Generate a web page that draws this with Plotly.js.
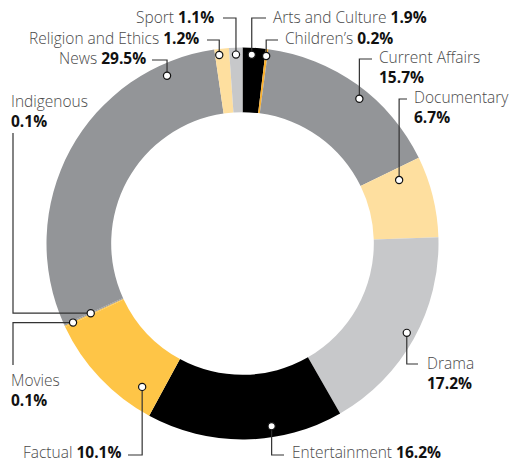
<!DOCTYPE html>
<html><head><meta charset="utf-8">
<script src="https://cdn.plot.ly/plotly-3.0.1.min.js"></script>
<style>html,body{margin:0;padding:0;background:#fff}#chart{width:515px;height:465px}</style>
</head><body><div id="chart"></div>
<script>
// ---- data ----
var categories = ["Arts and Culture","Children\u2019s","Current Affairs","Documentary","Drama","Entertainment","Factual","Movies","Indigenous","News","Religion and Ethics","Sport"];
var shares = [1.9,0.2,15.7,6.7,17.2,16.2,10.1,0.1,0.1,29.5,1.2,1.1];
var colors = ["#000000","#FBB12E","#939598","#FEDF9F","#C7C8CA","#000000","#FEC547","#FEC547","#939598","#939598","#FEDF9F","#C7C8CA"];

// ---- layout / callout styling (pixels) ----
var W = 515, H = 465;
var cx = 242.5, cy = 243.5, R = 196, HOLE = 0.67;
// t: position along slice (0..1), r: radius in px, mode v = vertical then horizontal, h = horizontal then vertical
var callouts = {
  "Arts and Culture":   {t:0.41, r:189, mode:"v", ey:18,  ex:266, tx:271, ty:17,  anchor:"left",  two:false},
  "Children\u2019s":    {t:0.5,  r:189, mode:"v", ey:40,  ex:278, tx:283, ty:38,  anchor:"left",  two:false},
  "Current Affairs":    {t:0.555,r:186, mode:"v", ey:59,  ex:372, tx:377, ty:67,  anchor:"left",  two:true},
  "Documentary":        {t:0.16, r:169, mode:"v", ey:99,  ex:407, tx:412, ty:107, anchor:"left",  two:true},
  "Drama":              {t:0.49, r:187, mode:"v", ey:364, ex:418, tx:425, ty:373, anchor:"left",  two:true},
  "Entertainment":      {t:0.357,r:185, mode:"v", ey:455, ex:284, tx:290, ty:452, anchor:"left",  two:false},
  "Factual":            {t:0.18, r:175, mode:"v", ey:455, ex:128, tx:123, ty:452, anchor:"right", two:false},
  "Movies":             {t:0.5,  r:187, mode:"h", ex:13,  ey:365, tx:9,   ty:390, anchor:"left",  two:true},
  "Indigenous":         {t:0.5,  r:167, mode:"h", ex:13,  ey:133, tx:9,   ty:111, anchor:"left",  two:true},
  "News":               {t:0.85, r:184, mode:"v", ey:60,  ex:152, tx:148, ty:58,  anchor:"right", two:false},
  "Religion and Ethics":{t:0.29, r:190, mode:"v", ey:40,  ex:207, tx:201, ty:38,  anchor:"right", two:false},
  "Sport":              {t:0.5,  r:189, mode:"v", ey:18,  ex:223, tx:216, ty:17,  anchor:"right", two:false}
};

function px(x){return x/W;}
function py(y){return 1 - y/H;}

var total = shares.reduce(function(a,b){return a+b;},0);
var shapes = [], annotations = [];
var cum = 0;
var FONT = "'Open Sans', Lato, sans-serif";
for (var i=0;i<categories.length;i++){
  var name = categories[i], v = shares[i], c = callouts[name];
  var ang = (cum + c.t*v)/total*2*Math.PI;
  cum += v;
  var dx = cx + c.r*Math.sin(ang), dy = cy - c.r*Math.cos(ang);
  var path;
  if (c.mode === "v") {
    path = "M"+px(dx)+","+py(dy)+" L"+px(dx)+","+py(c.ey)+" L"+px(c.ex)+","+py(c.ey);
  } else {
    path = "M"+px(dx)+","+py(dy)+" L"+px(c.ex)+","+py(dy)+" L"+px(c.ex)+","+py(c.ey);
  }
  shapes.push({type:"path", xref:"paper", yref:"paper", path:path, line:{color:"#333333", width:1.2}, layer:"above"});
  var rr = 3.6;
  shapes.push({type:"circle", xref:"paper", yref:"paper", x0:px(dx-rr), x1:px(dx+rr), y0:py(dy+rr), y1:py(dy-rr),
    fillcolor:"#ffffff", line:{color:"#111111", width:1.2}, layer:"above"});
  var pct = v.toFixed(1)+"%";
  var txt = c.two ? ("<span style='color:#4a4a4a'>"+name+"</span><br><b>"+pct+"</b>")
                  : ("<span style='color:#4a4a4a'>"+name+"</span> <b>"+pct+"</b>");
  annotations.push({xref:"paper", yref:"paper", x:px(c.tx), y:py(c.ty), text:txt, showarrow:false,
    xanchor:c.anchor, yanchor:"middle", align:c.anchor,
    font:{family:FONT, size:15.5, color:"#111111", weight:300}});
}

var trace = {
  type:"pie", labels:categories, values:shares, sort:false, direction:"clockwise", rotation:0,
  hole:HOLE, marker:{colors:colors, line:{width:0}}, textinfo:"none", hoverinfo:"label+value",
  showlegend:false,
  domain:{x:[(cx-R)/W,(cx+R)/W], y:[1-(cy+R)/H, 1-(cy-R)/H]}
};
var layout = {width:W, height:H, margin:{l:0,r:0,t:0,b:0}, paper_bgcolor:"#ffffff",
  showlegend:false, shapes:shapes, annotations:annotations};
Plotly.newPlot("chart",[trace],layout,{displayModeBar:false,staticPlot:true});
</script></body></html>
